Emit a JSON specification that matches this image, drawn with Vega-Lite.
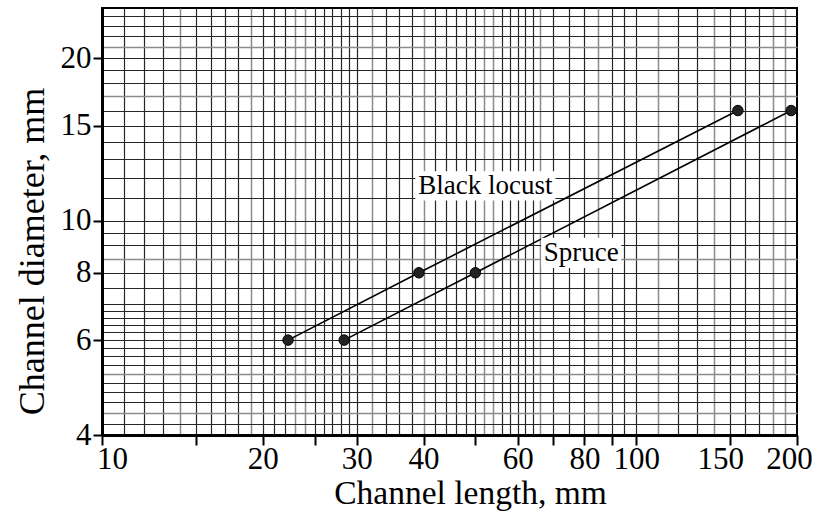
{
  "$schema": "https://vega.github.io/schema/vega-lite/v6.json",
  "width": 695,
  "height": 427,
  "autosize": {"type": "none"},
  "padding": {"left": 102, "top": 8, "right": 21, "bottom": 76},
  "background": "white",
  "config": {
    "view": {"stroke": "#000", "strokeWidth": 2},
    "font": "Liberation Serif",
    "axis": {"labelFont": "Liberation Serif", "titleFont": "Liberation Serif"},
    "text": {"font": "Liberation Serif"}
  },
  "datasets": {
    "points": [
      {"wood": "Black locust", "length": 22.3, "diameter": 6},
      {"wood": "Black locust", "length": 39.2, "diameter": 8},
      {"wood": "Black locust", "length": 155, "diameter": 16},
      {"wood": "Spruce", "length": 28.4, "diameter": 6},
      {"wood": "Spruce", "length": 50, "diameter": 8},
      {"wood": "Spruce", "length": 195, "diameter": 16}
    ],
    "labels": [
      {"label": "Black locust", "length": 52.2, "diameter": 11.6},
      {"label": "Spruce", "length": 78.9, "diameter": 8.71}
    ]
  },
  "layer": [
    {
      "data": {"name": "points"},
      "mark": {"type": "point", "opacity": 0},
      "encoding": {
        "x": {"field": "length", "type": "quantitative",
          "scale": {"type": "log", "domain": [10, 200], "nice": false},
          "axis": {"orient": "bottom", "grid": true, "gridColor": "#8c8c8c", "gridWidth": 1.5,
            "values": [14, 19, 23, 24, 32, 40, 52, 54, 66, 85, 110, 140, 180, 190],
            "labels": false, "ticks": false, "domain": false, "title": null}},
        "y": {"field": "diameter", "type": "quantitative",
          "scale": {"type": "log", "domain": [4, 24.8], "nice": false},
          "axis": {"orient": "left", "grid": true, "gridColor": "#8c8c8c", "gridWidth": 1.5,
            "values": [4.4, 5.2, 8.5, 17, 21],
            "labels": false, "ticks": false, "domain": false, "title": null}}
      }
    },
    {
      "data": {"name": "points"},
      "mark": {"type": "point", "opacity": 0},
      "encoding": {
        "x": {"field": "length", "type": "quantitative",
          "scale": {"type": "log", "domain": [10, 200], "nice": false},
          "axis": {"orient": "bottom", "grid": true, "gridColor": "#262626", "gridWidth": 1.2,
            "values": [11, 12, 13, 15, 16, 17, 18, 20, 21, 22, 25, 26, 27, 28, 29, 30, 34, 36, 38, 42, 44, 46, 48, 50, 56, 58, 60, 62, 64, 70, 75, 80, 90, 95, 100, 120, 130, 150, 160, 170],
            "labels": false, "ticks": false, "domain": false, "title": null}},
        "y": {"field": "diameter", "type": "quantitative",
          "scale": {"type": "log", "domain": [4, 24.8], "nice": false},
          "axis": {"orient": "left", "grid": true, "gridColor": "#262626", "gridWidth": 1.2,
            "values": [4.2, 4.6, 4.8, 5, 5.4, 5.6, 5.8, 6, 6.2, 6.4, 6.6, 6.8, 7, 7.5, 8, 9, 9.5, 10, 11, 12, 13, 14, 15, 16, 18, 19, 20, 22, 23, 24],
            "labels": false, "ticks": false, "domain": false, "title": null}}
      }
    },
    {
      "data": {"name": "points"},
      "mark": {"type": "line", "color": "#000", "strokeWidth": 1.6},
      "encoding": {
        "detail": {"field": "wood"},
        "x": {"field": "length", "type": "quantitative",
          "scale": {"type": "log", "domain": [10, 200], "nice": false},
          "axis": {"orient": "bottom", "grid": false, "zindex": 1, "labelFlush": false,
            "values": [10, 15, 20, 25, 30, 40, 50, 60, 70, 80, 90, 100, 150, 200],
            "labelExpr": "indexof([10, 20, 30, 40, 60, 80, 100, 150, 200], datum.value) >= 0 ? format(datum.value, 'd') : ''",
            "labelOffset": {"condition": [{"test": "datum.value == 10", "value": 10}, {"test": "datum.value == 150", "value": -10}, {"test": "datum.value == 200", "value": -8}], "value": 0},
            "tickSize": 10, "tickWidth": 2, "tickColor": "#000",
            "domainColor": "#000", "domainWidth": 3,
            "labelFont": "Liberation Serif", "labelFontSize": 31, "labelColor": "#000", "labelPadding": -1,
            "title": "Channel length, mm", "titleFont": "Liberation Serif", "titleFontSize": 33.5,
            "titleFontWeight": "normal", "titleColor": "#000", "titleX": 368, "titleY": 68,
            "titleBaseline": "alphabetic", "titleAlign": "center"}},
        "y": {"field": "diameter", "type": "quantitative",
          "scale": {"type": "log", "domain": [4, 24.8], "nice": false},
          "axis": {"orient": "left", "grid": false, "zindex": 1,
            "values": [4, 6, 8, 10, 15, 20],
            "labelExpr": "format(datum.value, 'd')",
            "tickSize": 9, "tickWidth": 2, "tickColor": "#000",
            "domainColor": "#000", "domainWidth": 3,
            "labelFont": "Liberation Serif", "labelFontSize": 31, "labelColor": "#000", "labelPadding": 2,
            "title": "Channel diameter, mm", "titleFont": "Liberation Serif", "titleFontSize": 36,
            "titleFontWeight": "normal", "titleColor": "#000", "titleX": -59, "titleY": 243,
            "titleBaseline": "alphabetic", "titleAlign": "center", "titleAngle": -90}}
      }
    },
    {
      "data": {"name": "points"},
      "mark": {"type": "point", "filled": true, "fill": "#222", "stroke": "#000", "strokeWidth": 1, "size": 110, "opacity": 1},
      "encoding": {
        "x": {"field": "length", "type": "quantitative", "scale": {"type": "log", "domain": [10, 200], "nice": false}, "axis": null},
        "y": {"field": "diameter", "type": "quantitative", "scale": {"type": "log", "domain": [4, 24.8], "nice": false}, "axis": null}
      }
    },
    {
      "data": {"name": "labels"},
      "transform": [{"filter": "datum.label == 'Black locust'"}],
      "mark": {"type": "point", "shape": "M-1,-0.21L1,-0.21L1,0.21L-1,0.21Z", "filled": true, "color": "#fff", "opacity": 1, "size": 19600},
      "encoding": {
        "x": {"field": "length", "type": "quantitative", "scale": {"type": "log", "domain": [10, 200], "nice": false}, "axis": null},
        "y": {"field": "diameter", "type": "quantitative", "scale": {"type": "log", "domain": [4, 24.8], "nice": false}, "axis": null}
      }
    },
    {
      "data": {"name": "labels"},
      "transform": [{"filter": "datum.label == 'Spruce'"}],
      "mark": {"type": "point", "shape": "M-1,-0.38L1,-0.38L1,0.38L-1,0.38Z", "filled": true, "color": "#fff", "opacity": 1, "size": 6400},
      "encoding": {
        "x": {"field": "length", "type": "quantitative", "scale": {"type": "log", "domain": [10, 200], "nice": false}, "axis": null},
        "y": {"field": "diameter", "type": "quantitative", "scale": {"type": "log", "domain": [4, 24.8], "nice": false}, "axis": null}
      }
    },
    {
      "data": {"name": "labels"},
      "mark": {"type": "text", "font": "Liberation Serif", "fontSize": 27, "color": "#000", "align": "center", "baseline": "middle"},
      "encoding": {
        "x": {"field": "length", "type": "quantitative", "scale": {"type": "log", "domain": [10, 200], "nice": false}, "axis": null},
        "y": {"field": "diameter", "type": "quantitative", "scale": {"type": "log", "domain": [4, 24.8], "nice": false}, "axis": null},
        "text": {"field": "label"}
      }
    }
  ],
  "resolve": {"axis": {"x": "independent", "y": "independent"}}
}
